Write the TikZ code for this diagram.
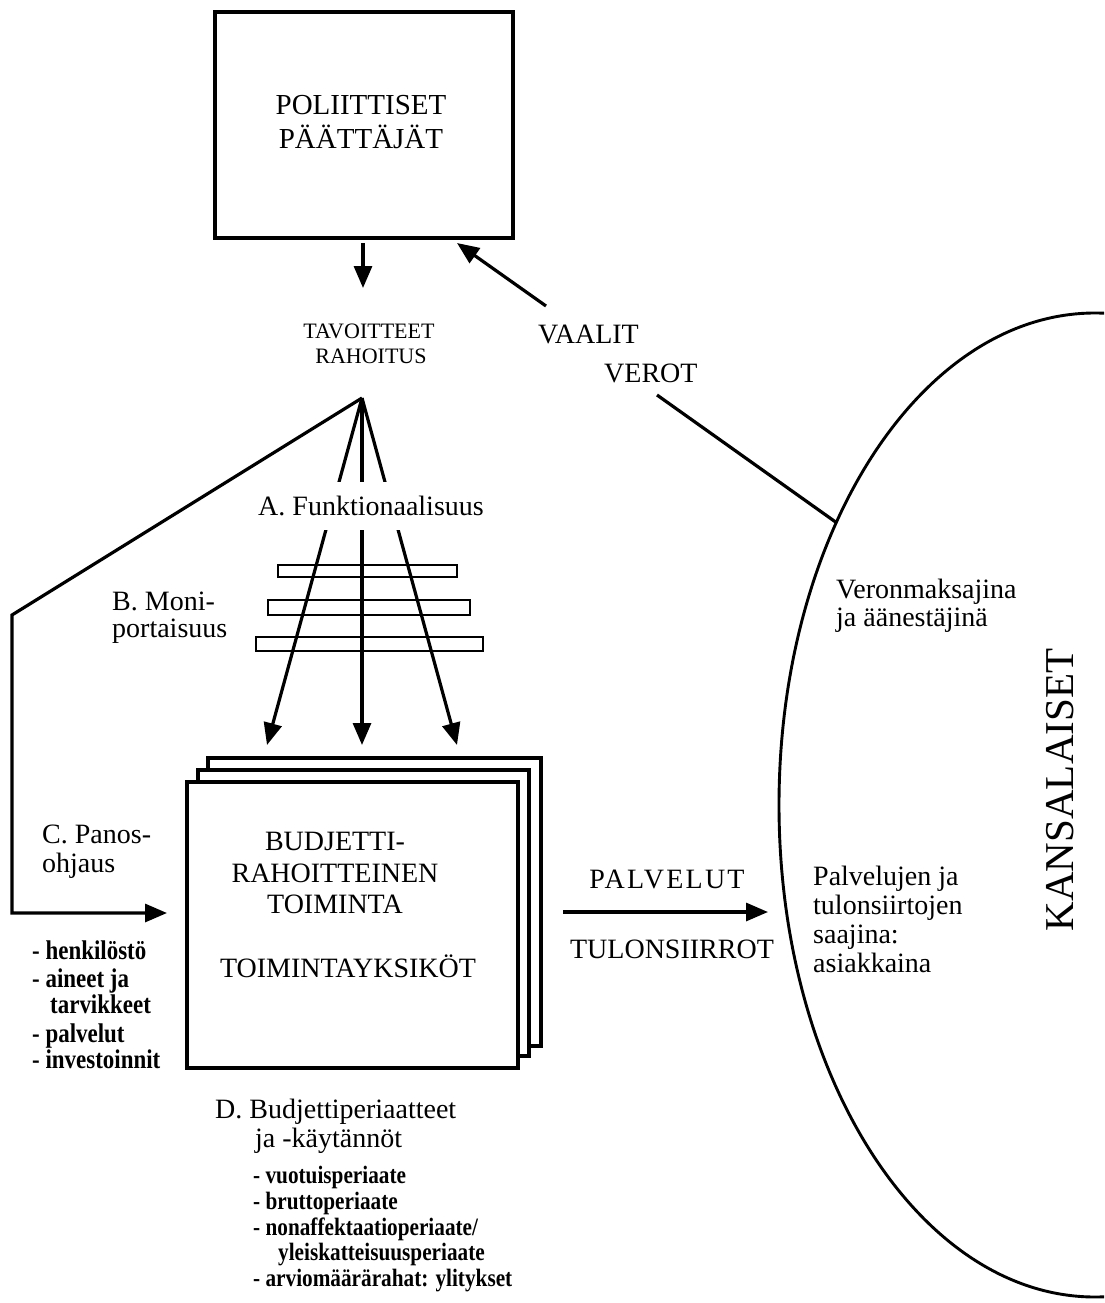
\documentclass[tikz,border=0pt]{standalone}
\usepackage{fontspec}
\setmainfont{Liberation Serif}
\newfontfamily\listfont[FakeStretch=0.85]{Liberation Serif}
\usetikzlibrary{arrows.meta}
\newcommand{\fsz}[1]{\fontsize{#1}{#1}\selectfont}
\begin{document}
\begin{tikzpicture}[x=1pt,y=-1pt,
  ln/.style={line width=3.2pt},
  arr/.style={line width=3.2pt,-{Triangle[length=22pt,width=18pt]}},
  card/.style={draw,line width=3.2pt,fill=white,inner sep=0pt},
  barbox/.style={draw,line width=2.7pt},
  tx/.style={inner sep=0pt,font=\fsz{#1}},
  lx/.style={inner sep=0pt,font=\listfont\bfseries\fsz{#1},anchor=base west}
]
\useasboundingbox (0,0) rectangle (1104,1303);

% citizens ellipse
\begin{scope}
  \clip (0,0) rectangle (1104,1303);
  \draw[line width=2.9pt] (1095,805) ellipse [x radius=316, y radius=492];
\end{scope}

% coordinates
\coordinate (d0) at (363,243);
\coordinate (d1) at (363,288);
\coordinate (vstart) at (546,306);
\coordinate (vtip) at (457,243);
\coordinate (apex) at (362,398);
\coordinate (tA) at (267,745);
\coordinate (tB) at (362,745);
\coordinate (tC) at (457,745);
\coordinate (cb1) at (12,615);
\coordinate (cb2) at (12,913);
\coordinate (ctip) at (167,913);
\coordinate (p0) at (563,912);
\coordinate (p1) at (768,912);
\coordinate (vr0) at (657,395);
\coordinate (vr1) at (837,523);

% top box
\node[card, minimum width=298pt, minimum height=226pt] (pol) at (364,125) {};
\node[tx=29, anchor=base] (pol1) at (361,115) {POLIITTISET};
\node[tx=29, anchor=base] (pol2) at (361,148) {PÄÄTTÄJÄT};

% connectors
\draw[arr] (d0) -- (d1);
\draw[arr] (vstart) -- (vtip);
\draw[ln] (vr0) -- (vr1);
\draw[arr] (apex) -- (tA);
\draw[arr] (apex) -- (tB);
\draw[arr] (apex) -- (tC);
\draw[arr] (apex) -- (cb1) -- (cb2) -- (ctip);
\draw[arr] (p0) -- (p1);

% bars
\draw[barbox] (278,565) rectangle (457,577);
\draw[barbox] (268,600) rectangle (470,615);
\draw[barbox] (256,637) rectangle (483,651);

\node[tx=28, fill=white, minimum height=48pt, inner xsep=2pt] (funk) at (371,505.5) {A. Funktionaalisuus};

% stacked unit boxes
\node[card, minimum width=333pt, minimum height=288pt] (unit3) at (374.5,902) {};
\node[card, minimum width=331pt, minimum height=286pt] (unit2) at (363.5,913) {};
\node[card, minimum width=331pt, minimum height=286pt] (unit1) at (352.5,925) {};
\node[tx=28, anchor=base] (u1) at (335,850) {BUDJETTI-};
\node[tx=28, anchor=base] (u2) at (335,882) {RAHOITTEINEN};
\node[tx=28, anchor=base] (u3) at (335,913) {TOIMINTA};
\node[tx=28, anchor=base] (u4) at (348,977) {TOIMINTAYKSIKÖT};

% labels
\node[tx=22, anchor=base] (tav1) at (369,338) {TAVOITTEET};
\node[tx=22, anchor=base] (tav2) at (371,363) {RAHOITUS};
\node[tx=28, anchor=base east] (vaal) at (639,343) {VAALIT};
\node[tx=28, anchor=base west] (vero) at (604,382) {VEROT};
\node[tx=28, anchor=base west] (b1) at (112,610) {B. Moni-};
\node[tx=28, anchor=base west] (b2) at (112,637) {portaisuus};
\node[tx=28, anchor=base west] (c1) at (42,843) {C. Panos-};
\node[tx=28, anchor=base west] (c2) at (42,872) {ohjaus};
\node[lx=27] (l1) at (32,959) {- henkilöstö};
\node[lx=27] (l2) at (32,987) {- aineet ja};
\node[lx=27] (l3) at (50,1013) {tarvikkeet};
\node[lx=27] (l4) at (32,1042) {- palvelut};
\node[lx=27] (l5) at (32,1068) {- investoinnit};

\node[tx=28, anchor=base] (palv) at (667,888) {\addfontfeature{LetterSpace=8}PALVELUT};
\node[tx=28, anchor=base] (tulo) at (672,958) {TULONSIIRROT};

\node[tx=28, anchor=base west] (v1) at (836,598) {Veronmaksajina};
\node[tx=28, anchor=base west] (v2) at (836,626) {ja äänestäjinä};
\node[tx=28, anchor=base west] (s1) at (813,885) {Palvelujen ja};
\node[tx=28, anchor=base west] (s2) at (813,914) {tulonsiirtojen};
\node[tx=28, anchor=base west] (s3) at (813,943) {saajina:};
\node[tx=28, anchor=base west] (s4) at (813,972) {asiakkaina};
\node[tx=41, rotate=90] (kans) at (1060,790) {KANSALAISET};

\node[tx=28, anchor=base west] (d1t) at (215,1118) {D. Budjettiperiaatteet};
\node[tx=28, anchor=base west] (d2t) at (255,1147) {ja -käytännöt};
\node[lx=25] (m1) at (253,1183) {- vuotuisperiaate};
\node[lx=25] (m2) at (253,1209) {- bruttoperiaate};
\node[lx=25] (m3) at (253,1235) {- nonaffektaatioperiaate/};
\node[lx=25] (m4) at (278,1260) {yleiskatteisuusperiaate};
\node[lx=25] (m5) at (253,1286) {- arviomäärärahat: ylitykset};
\end{tikzpicture}
\end{document}
